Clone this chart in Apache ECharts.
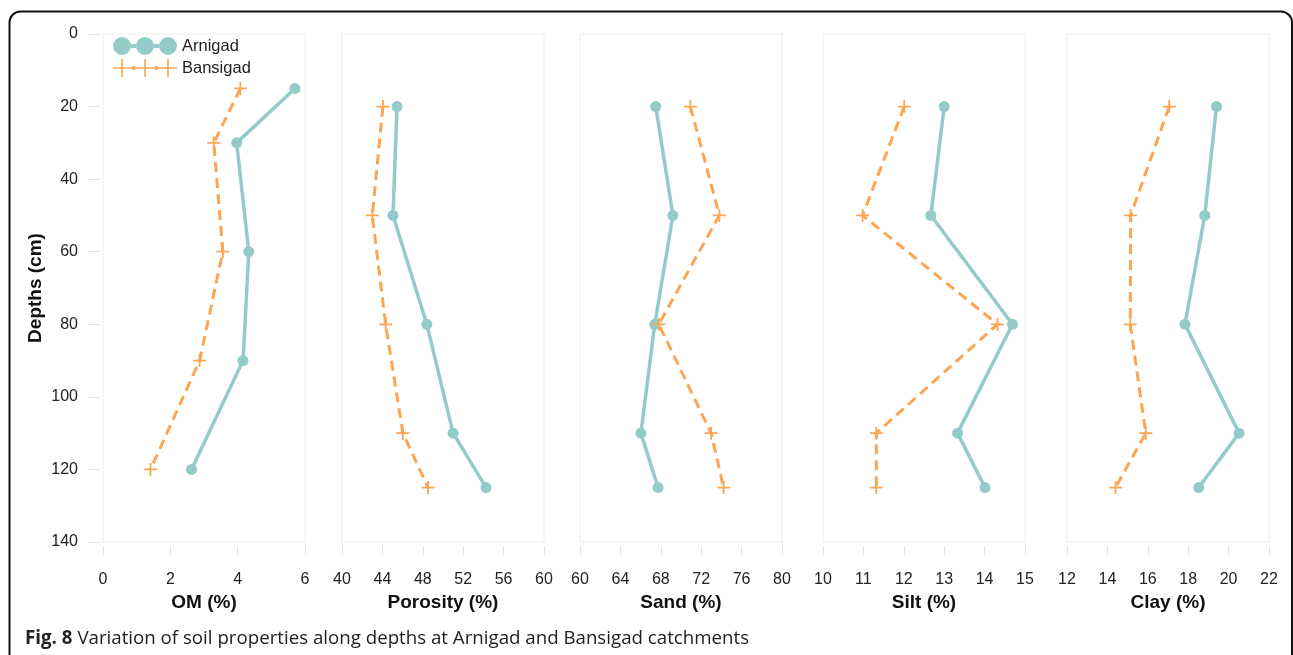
<!DOCTYPE html>
<html>
<head>
<meta charset="utf-8">
<script src="https://cdn.jsdelivr.net/npm/echarts@6/dist/echarts.min.js"></script>
<style>
html,body{margin:0;padding:0;background:#fff;}
#chart{width:1293px;height:655px;}
</style>
</head>
<body>
<div id="chart"></div>
<script>
// ---------- data ----------
const depthsOM = [15, 30, 60, 90, 120];
const depthsOther = [20, 50, 80, 110, 125];

const omArnigad = [5.70, 3.97, 4.33, 4.16, 2.63];
const omBansigad = [4.08, 3.29, 3.56, 2.87, 1.41];
const porosityArnigad = [45.45, 45.05, 48.40, 51.00, 54.27];
const porosityBansigad = [44.05, 43.00, 44.32, 46.03, 48.52];
const sandArnigad = [67.50, 69.20, 67.40, 66.03, 67.73];
const sandBansigad = [70.93, 73.80, 67.80, 72.98, 74.22];
const siltArnigad = [13.00, 12.67, 14.69, 13.33, 14.01];
const siltBansigad = [12.01, 10.98, 14.32, 11.32, 11.32];
const clayArnigad = [19.40, 18.82, 17.84, 20.52, 18.52];
const clayBansigad = [17.06, 15.15, 15.13, 15.90, 14.40];

const panelNames = ['OM (%)', 'Porosity (%)', 'Sand (%)', 'Silt (%)', 'Clay (%)'];
const xMins = [0, 40, 60, 10, 12];
const xMaxs = [6, 60, 80, 15, 22];
const xIntervals = [2, 4, 4, 1, 2];
const yMin = 0, yMax = 140, yInterval = 20;
const yAxisName = 'Depths (cm)';
const seriesNames = ['Arnigad', 'Bansigad'];
const captionBold = 'Fig. 8';
const captionText = 'Variation of soil properties along depths at Arnigad and Bansigad catchments';

// ---------- styling ----------
const TEAL = '#93CBC9';
const ORANGE = '#FCA552';
const FONT = 'Liberation Sans, Arial, sans-serif';
const gridLefts = [103, 342, 580, 823, 1067];
const gridWidth = 202;
const gridTop = 34, gridHeight = 508;

const panels = [
  [omArnigad, omBansigad, depthsOM],
  [porosityArnigad, porosityBansigad, depthsOther],
  [sandArnigad, sandBansigad, depthsOther],
  [siltArnigad, siltBansigad, depthsOther],
  [clayArnigad, clayBansigad, depthsOther]
];

const plusPath = 'path://M4.3,0 H5.7 V4.3 H10 V5.7 H5.7 V10 H4.3 V5.7 H0 V4.3 H4.3 Z';

function circ(cx) { return 'M' + (cx - 9) + ',9 A9,9 0 1,1 ' + (cx + 9) + ',9 A9,9 0 1,1 ' + (cx - 9) + ',9 Z '; }
function plus(cx) {
  const a = cx - 0.8, b = cx + 0.8, l = cx - 9, r = cx + 9;
  return 'M' + a + ',0 H' + b + ' V8.2 H' + r + ' V9.8 H' + b + ' V18 H' + a + ' V9.8 H' + l + ' V8.2 H' + a + ' Z ';
}
const legendIconA = 'path://' + circ(9) + circ(32) + circ(55) + 'M18,7 H23 V11 H18 Z M41,7 H46 V11 H41 Z';
const legendIconB = 'path://' + plus(9) + plus(32) + plus(55) + 'M18.5,7.3 H22.5 V10.7 H18.5 Z M41.5,7.3 H45.5 V10.7 H41.5 Z';

const grids = [], xAxes = [], yAxes = [], series = [];
panels.forEach(function (p, i) {
  grids.push({
    left: gridLefts[i], top: gridTop, width: gridWidth, height: gridHeight,
    show: true, borderColor: '#eeeeee', borderWidth: 1, backgroundColor: 'transparent'
  });
  xAxes.push({
    type: 'value', gridIndex: i, min: xMins[i], max: xMaxs[i], interval: xIntervals[i],
    position: 'bottom', offset: 4,
    name: panelNames[i], nameLocation: 'middle', nameGap: 47,
    nameTextStyle: { fontFamily: FONT, fontWeight: 'bold', fontSize: 19, color: '#111' },
    axisLine: { show: false, onZero: false },
    axisTick: { show: true, length: 10, lineStyle: { color: '#e3e3e3', width: 1 } },
    axisLabel: { fontFamily: FONT, fontSize: 16, color: '#222', margin: 26 },
    splitLine: { show: false }
  });
  yAxes.push({
    type: 'value', gridIndex: i, min: yMin, max: yMax, interval: yInterval, inverse: true,
    offset: 3,
    name: i === 0 ? yAxisName : '', nameLocation: 'middle', nameGap: 55,
    nameTextStyle: { fontFamily: FONT, fontWeight: 'bold', fontSize: 19, color: '#111' },
    axisLine: { show: false, onZero: false },
    axisTick: { show: i === 0, length: 12, lineStyle: { color: '#e3e3e3', width: 1 } },
    axisLabel: { show: i === 0, fontFamily: FONT, fontSize: 16, color: '#222', margin: 22 },
    splitLine: { show: false }
  });
  const depths = p[2];
  series.push({
    name: seriesNames[0], type: 'line', xAxisIndex: i, yAxisIndex: i,
    data: p[0].map(function (v, k) { return [v, depths[k]]; }),
    symbol: 'circle', symbolSize: 11, showAllSymbol: true,
    lineStyle: { color: TEAL, width: 3.5 },
    itemStyle: { color: TEAL, borderWidth: 0 },
    z: 2
  });
  series.push({
    name: seriesNames[1], type: 'line', xAxisIndex: i, yAxisIndex: i,
    data: p[1].map(function (v, k) { return [v, depths[k]]; }),
    symbol: plusPath, symbolSize: 13, showAllSymbol: true,
    lineStyle: { color: ORANGE, width: 3, type: [10, 6] },
    itemStyle: { color: ORANGE, borderWidth: 0 },
    z: 3
  });
});

const chart = echarts.init(document.getElementById('chart'), null, { renderer: 'canvas' });
chart.setOption({
  animation: false,
  backgroundColor: '#ffffff',
  title: {
    left: 25, top: 629, padding: 0,
    text: '{b|' + captionBold + '} {n|' + captionText + '}',
    textStyle: {
      fontWeight: 'normal',
      rich: {
        b: { fontFamily: 'Open Sans, sans-serif', fontWeight: 'bold', fontSize: 18.7, color: '#222' },
        n: { fontFamily: 'Open Sans, sans-serif', fontWeight: 'normal', fontSize: 18.7, color: '#222' }
      }
    }
  },
  legend: {
    left: 113, top: 37, orient: 'vertical', itemGap: 4, padding: 0,
    itemWidth: 64, itemHeight: 18,
    itemStyle: { borderWidth: 0 },
    textStyle: { fontFamily: FONT, fontSize: 16.5, color: '#222' },
    data: [
      { name: seriesNames[0], icon: legendIconA },
      { name: seriesNames[1], icon: legendIconB }
    ]
  },
  graphic: [{
    type: 'rect', silent: true, z: 100,
    shape: { x: 9.5, y: 11.5, width: 1282.5, height: 700, r: 11 },
    style: { fill: 'none', stroke: '#111', lineWidth: 2 }
  }],
  grid: grids,
  xAxis: xAxes,
  yAxis: yAxes,
  series: series
});
</script>
</body>
</html>
